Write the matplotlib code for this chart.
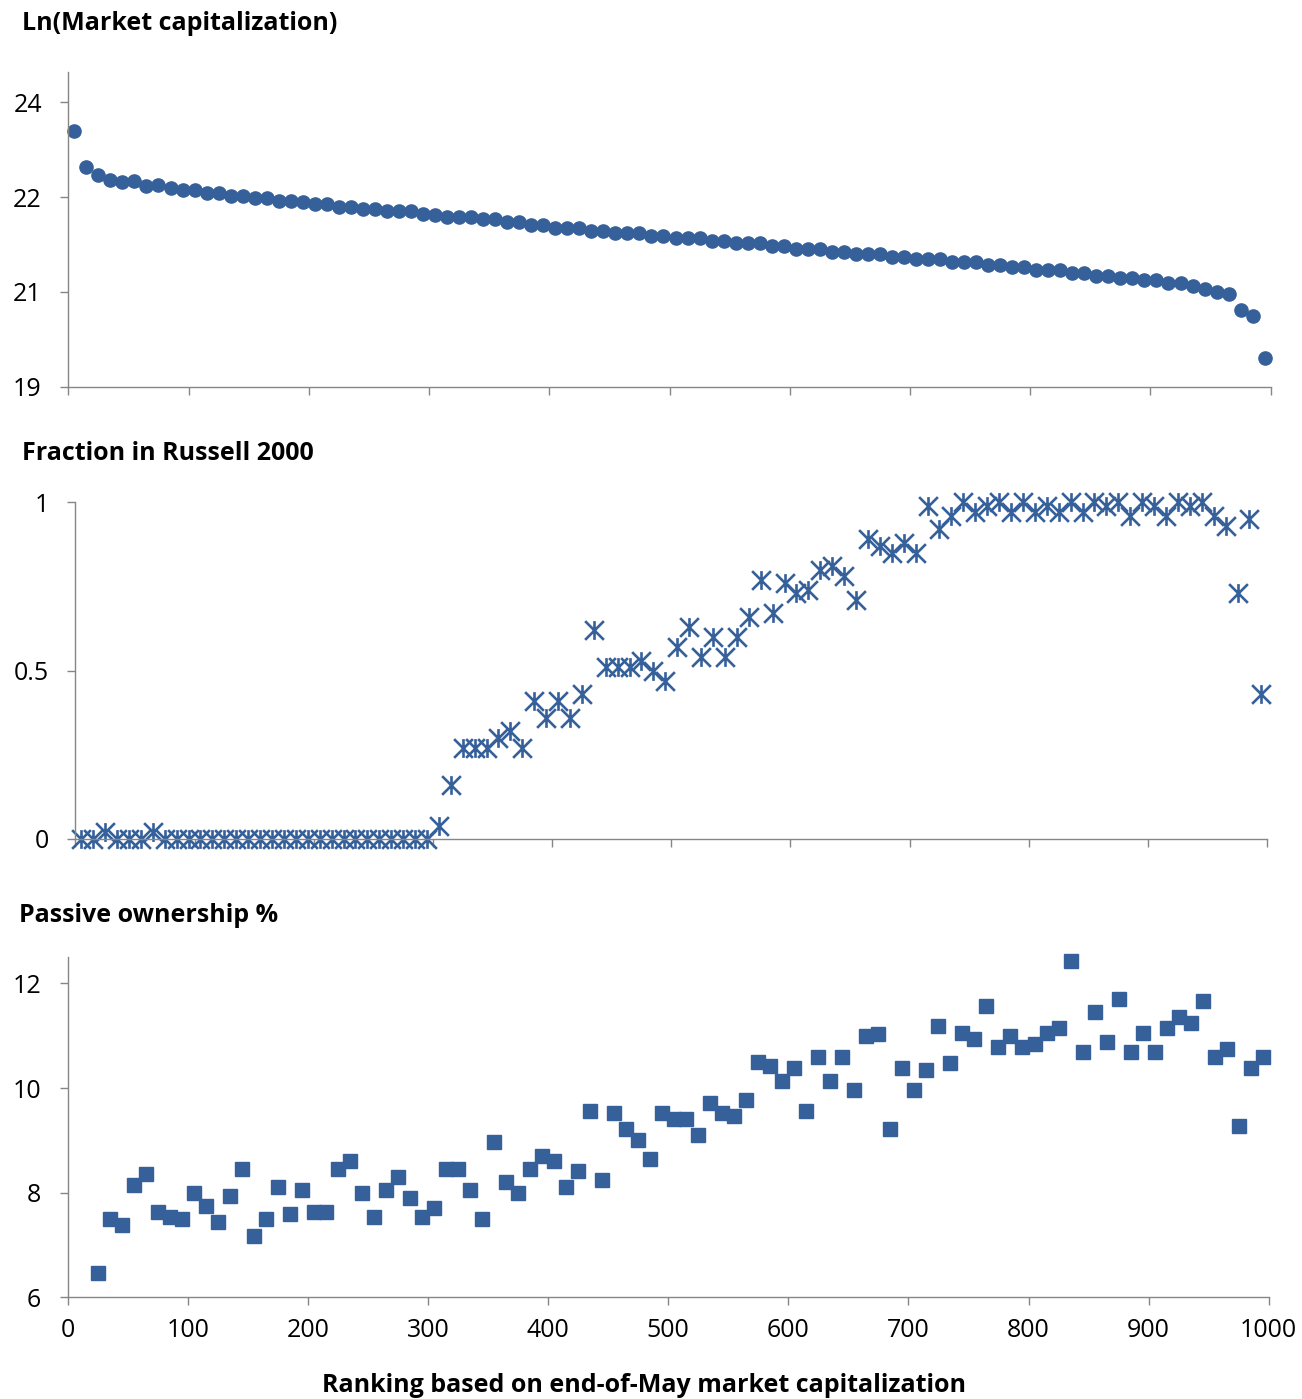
"""
Three stacked panels: market cap, Russell 2000 membership and passive ownership by rank
"""
import numpy as np
import matplotlib
matplotlib.use("Agg")
import matplotlib.pyplot as plt
from matplotlib.path import Path

plt.rcParams["font.family"] = ["Open Sans", "DejaVu Sans"]

# rank bins (bin mid-points)
rank = np.arange(5, 1000, 10)
rank_passive = np.arange(25, 1000, 10)

# Ln(Market capitalization)
ln_mcap = [
    23.17, 22.65, 22.53, 22.45, 22.42, 22.43, 22.37, 22.38, 22.34, 22.31,
    22.31, 22.26, 22.26, 22.22, 22.22, 22.19, 22.18, 22.14, 22.14, 22.13,
    22.10, 22.10, 22.06, 22.06, 22.02, 22.02, 21.99, 21.99, 21.99, 21.95,
    21.94, 21.91, 21.91, 21.91, 21.87, 21.87, 21.83, 21.83, 21.79, 21.79,
    21.75, 21.75, 21.75, 21.70, 21.70, 21.67, 21.67, 21.67, 21.63, 21.63,
    21.59, 21.59, 21.59, 21.55, 21.55, 21.52, 21.52, 21.52, 21.48, 21.48,
    21.43, 21.43, 21.43, 21.39, 21.39, 21.36, 21.36, 21.36, 21.31, 21.32,
    21.28, 21.28, 21.28, 21.24, 21.24, 21.24, 21.20, 21.20, 21.16, 21.16,
    21.12, 21.12, 21.12, 21.08, 21.08, 21.04, 21.04, 21.00, 21.00, 20.97,
    20.97, 20.93, 20.93, 20.88, 20.84, 20.80, 20.77, 20.53, 20.45, 19.82,
]

# Fraction in Russell 2000
frac_r2000 = [
    0, 0, 0.02, 0, 0, 0, 0.02, 0, 0, 0,
    0, 0, 0, 0, 0, 0, 0, 0, 0, 0,
    0, 0, 0, 0, 0, 0, 0, 0, 0, 0,
    0.04, 0.16, 0.27, 0.27, 0.27, 0.30, 0.32, 0.27, 0.41, 0.36,
    0.41, 0.36, 0.43, 0.62, 0.51, 0.51, 0.51, 0.53, 0.50, 0.47,
    0.57, 0.63, 0.54, 0.60, 0.54, 0.60, 0.66, 0.77, 0.67, 0.76,
    0.73, 0.74, 0.80, 0.81, 0.78, 0.71, 0.89, 0.87, 0.85, 0.88,
    0.85, 0.99, 0.92, 0.96, 1.00, 0.97, 0.99, 1.00, 0.97, 1.00,
    0.97, 0.99, 0.97, 1.00, 0.97, 1.00, 0.99, 1.00, 0.96, 1.00,
    0.99, 0.96, 1.00, 0.99, 1.00, 0.96, 0.93, 0.73, 0.95, 0.43,
]

# Passive ownership % (first two bins missing)
passive = [
    6.47, 7.49, 7.38, 8.14, 8.35, 7.63, 7.54, 7.49,
    8.00, 7.75, 7.43, 7.94, 8.46, 7.17, 7.49, 8.10, 7.59, 8.05,
    7.63, 7.63, 8.46, 8.60, 8.00, 7.54, 8.05, 8.30, 7.89, 7.54,
    7.70, 8.46, 8.46, 8.05, 7.49, 8.97, 8.20, 8.00, 8.46, 8.71,
    8.61, 8.10, 8.41, 9.56, 8.25, 9.53, 9.21, 9.01, 8.65, 9.53,
    9.41, 9.41, 9.11, 9.72, 9.53, 9.46, 9.78, 10.49, 10.43, 10.13,
    10.39, 9.56, 10.59, 10.13, 10.59, 9.97, 10.99, 11.04, 9.21, 10.39,
    9.97, 10.34, 11.19, 10.48, 11.05, 10.94, 11.56, 10.79, 10.99, 10.79,
    10.84, 11.05, 11.15, 12.42, 10.68, 11.46, 10.89, 11.70, 10.68, 11.05,
    10.68, 11.15, 11.35, 11.25, 11.66, 10.59, 10.74, 9.27, 10.39, 10.59,
]

top_ticks = [19.4, 20.8, 22.2, 23.6]
top_labels = ["19", "21", "22", "24"]
mid_ticks = [0, 0.5, 1]
mid_labels = ["0", "0.5", "1"]
bot_ticks = [6, 8, 10, 12]
bot_labels = ["6", "8", "10", "12"]
x_ticks = np.arange(0, 1001, 100)

blue = "#36609A"
grey = "#868686"
W, H = 1302, 1399


def px_axes(fig, left, right, top, bottom):
    return fig.add_axes([left / W, 1 - bottom / H, (right - left) / W, (bottom - top) / H])


def style(ax, show_xlabels):
    for s in ["top", "right"]:
        ax.spines[s].set_visible(False)
    for s in ["left", "bottom"]:
        ax.spines[s].set_color(grey)
        ax.spines[s].set_linewidth(1.0)
    ax.set_xlim(0, 1000)
    ax.set_xticks(x_ticks)
    ax.tick_params(direction="out", length=6, width=1.0, color=grey,
                   labelsize=18, labelcolor="black")
    ax.tick_params(axis="y", pad=13)
    ax.tick_params(axis="x", pad=9, labelbottom=show_xlabels)


# 星形标记: X 加一条竖线
star = Path([(-1, -1), (1, 1), (-1, 1), (1, -1), (0, -1), (0, 1)],
            [Path.MOVETO, Path.LINETO, Path.MOVETO, Path.LINETO, Path.MOVETO, Path.LINETO])

fig = plt.figure(figsize=(W / 100, H / 100), dpi=100)

ax1 = px_axes(fig, 68.3, 1270.7, 71.7, 386.7)
ax1.plot(rank, ln_mcap, ls="none", marker="o", ms=9.5, color=blue, clip_on=False)
ax1.set_ylim(19.4, 24.05)
ax1.set_yticks(top_ticks)
ax1.set_yticklabels(top_labels)
style(ax1, False)

ax2 = px_axes(fig, 75.3, 1267.3, 502.3, 839)
ax2.plot(rank, frac_r2000, ls="none", marker=star, ms=13.5, mew=1.9, color=blue,
         fillstyle="none", clip_on=False)
ax2.set_ylim(0, 1)
ax2.set_yticks(mid_ticks)
ax2.set_yticklabels(mid_labels)
style(ax2, False)

ax3 = px_axes(fig, 67.7, 1268.7, 957.3, 1297.3)
ax3.plot(rank_passive, passive, ls="none", marker="s", ms=10, color=blue, clip_on=False)
ax3.set_ylim(6, 12.5)
ax3.set_yticks(bot_ticks)
ax3.set_yticklabels(bot_labels)
style(ax3, True)

fig.text(22 / W, 1 - 24 / H, "Ln(Market capitalization)", fontsize=18, fontweight="bold", va="center")
fig.text(22 / W, 1 - 453 / H, "Fraction in Russell 2000", fontsize=18, fontweight="bold", va="center")
fig.text(19 / W, 1 - 915 / H, "Passive ownership %", fontsize=18, fontweight="bold", va="center")
fig.text(644 / W, 1 - 1385 / H, "Ranking based on end-of-May market capitalization",
         fontsize=18, fontweight="bold", ha="center", va="center")

fig.savefig("out.png", dpi=100)
